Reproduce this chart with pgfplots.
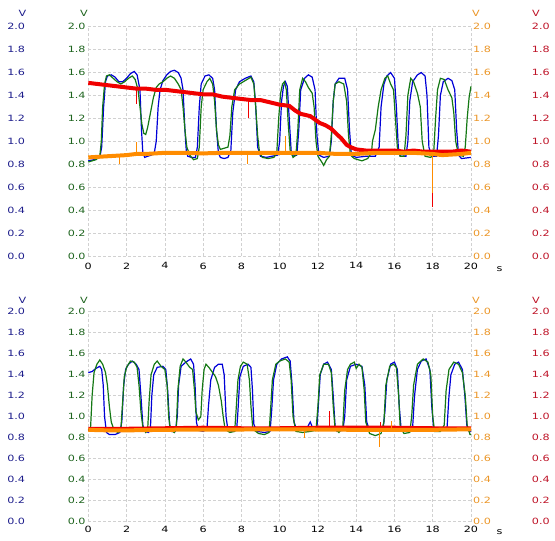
\documentclass[border=0pt]{standalone}
\usepackage{pgfplots}
\pgfplotsset{compat=1.18}
\usepackage{fontspec}
\setmainfont{DejaVu Sans}[FakeStretch=1.3]
\definecolor{cB}{RGB}{0,0,215}
\definecolor{cG}{RGB}{20,120,20}
\definecolor{cR}{RGB}{240,0,0}
\definecolor{cO}{RGB}{255,140,0}
\definecolor{lB}{RGB}{30,30,140}
\definecolor{lG}{RGB}{30,100,30}
\definecolor{lO}{RGB}{235,150,40}
\definecolor{lR}{RGB}{190,20,40}
\newcommand\lbl{\fontsize{8.6}{10}\selectfont}
\pgfplotsset{
  /pgf/number format/assume math mode=true,
  base/.style={
    scale only axis, width=382.7pt,
    xmin=0, xmax=20, ymin=0, ymax=2,
    xtick={0,2,4,6,8,10,12,14,16,18,20},
    ytick={0,0.2,0.4,0.6,0.8,1,1.2,1.4,1.6,1.8,2},
    axis line style={draw=none},
    major tick length=0pt,
    tick style={draw=none},
    ticklabel style={font=\lbl, inner sep=0pt},
    y tick label style={/pgf/number format/fixed,/pgf/number format/fixed zerofill,/pgf/number format/precision=1},
    anchor=south west,
    clip=false,
  },
  gridax/.style={grid=major, grid style={draw=black!18, dash pattern=on 3pt off 2pt, line width=0.6pt}},
  bl/.style={cB, line width=1.2pt},
  gr/.style={cG, line width=1.2pt},
  rd/.style={cR, line width=4pt},
  og/.style={cO, line width=4pt},
  rds/.style={cR, line width=0.8pt},
  ogs/.style={cO, line width=0.8pt},
}
\begin{document}
\begin{tikzpicture}
\path[use as bounding box] (0,0) rectangle (555pt,-541pt);
% ================= TOP PANEL =================
\begin{axis}[base, gridax, at={(88.3pt,-256pt)}, height=229.3pt,
  yticklabel style={text=lG, xshift=-2.5pt},
  xticklabel style={text=black, yshift=-6.5pt}]
\addplot[bl] coordinates {(0,0.83)(0.3,0.84)(0.6,0.86)(0.7,0.95)(0.8,1.3)(0.9,1.52)(1.0,1.57)(1.2,1.58)(1.4,1.56)(1.6,1.52)(1.8,1.52)(2.0,1.55)(2.2,1.59)(2.4,1.61)(2.55,1.58)(2.7,1.45)(2.78,1.1)(2.85,0.9)(2.95,0.86)(3.1,0.87)(3.3,0.88)(3.45,0.9)(3.55,1.0)(3.65,1.3)(3.75,1.45)(3.9,1.53)(4.1,1.58)(4.3,1.61)(4.5,1.62)(4.7,1.6)(4.85,1.55)(4.95,1.45)(5.05,1.1)(5.12,0.92)(5.2,0.87)(5.4,0.86)(5.6,0.86)(5.7,0.95)(5.8,1.3)(5.9,1.5)(6.1,1.57)(6.3,1.58)(6.5,1.55)(6.6,1.45)(6.7,1.1)(6.8,0.9)(6.9,0.86)(7.1,0.85)(7.3,0.86)(7.45,0.92)(7.55,1.25)(7.7,1.45)(7.9,1.52)(8.2,1.55)(8.5,1.57)(8.65,1.52)(8.75,1.3)(8.85,0.95)(9.0,0.87)(9.3,0.86)(9.6,0.87)(9.9,0.88)(10.0,1.0)(10.1,1.35)(10.2,1.48)(10.3,1.52)(10.4,1.48)(10.5,1.2)(10.6,0.92)(10.7,0.87)(10.9,0.88)(11.0,1.1)(11.1,1.45)(11.3,1.55)(11.5,1.58)(11.7,1.56)(11.85,1.45)(11.95,1.05)(12.05,0.88)(12.3,0.86)(12.6,0.87)(12.7,1.0)(12.8,1.35)(12.9,1.5)(13.1,1.55)(13.4,1.55)(13.55,1.45)(13.65,1.1)(13.75,0.88)(14.0,0.86)(14.5,0.87)(15.0,0.87)(15.2,0.95)(15.3,1.3)(15.45,1.5)(15.6,1.57)(15.8,1.6)(16.0,1.55)(16.1,1.3)(16.2,0.95)(16.3,0.87)(16.6,0.87)(16.7,1.0)(16.8,1.35)(16.95,1.52)(17.2,1.58)(17.4,1.6)(17.6,1.57)(17.7,1.4)(17.8,0.95)(17.95,0.87)(18.2,0.87)(18.3,1.05)(18.4,1.4)(18.55,1.52)(18.8,1.55)(19.0,1.53)(19.15,1.45)(19.25,1.1)(19.35,0.88)(19.5,0.85)(20,0.86)};
\addplot[gr] coordinates {(0,0.82)(0.4,0.84)(0.6,0.87)(0.68,1.0)(0.75,1.3)(0.85,1.5)(0.95,1.57)(1.1,1.58)(1.3,1.55)(1.5,1.52)(1.7,1.5)(1.9,1.52)(2.1,1.55)(2.3,1.57)(2.45,1.54)(2.6,1.45)(2.7,1.3)(2.8,1.15)(2.9,1.07)(3.0,1.06)(3.1,1.12)(3.25,1.25)(3.4,1.38)(3.55,1.47)(3.7,1.5)(3.9,1.52)(4.1,1.55)(4.3,1.57)(4.5,1.55)(4.7,1.5)(4.85,1.45)(4.95,1.3)(5.05,1.1)(5.15,0.95)(5.3,0.88)(5.5,0.84)(5.7,0.85)(5.8,0.95)(5.9,1.3)(6.0,1.45)(6.2,1.52)(6.35,1.55)(6.5,1.5)(6.6,1.35)(6.7,1.1)(6.8,0.97)(6.9,0.93)(7.1,0.94)(7.3,0.95)(7.4,1.05)(7.5,1.3)(7.65,1.45)(7.9,1.5)(8.2,1.53)(8.5,1.56)(8.65,1.5)(8.75,1.3)(8.85,1.05)(8.95,0.9)(9.1,0.86)(9.4,0.85)(9.7,0.86)(9.85,0.9)(9.95,1.2)(10.05,1.42)(10.15,1.5)(10.25,1.52)(10.35,1.45)(10.45,1.15)(10.55,0.92)(10.7,0.86)(10.85,0.88)(10.95,1.1)(11.05,1.45)(11.2,1.55)(11.35,1.52)(11.5,1.47)(11.7,1.42)(11.8,1.3)(11.9,1.0)(12.0,0.87)(12.2,0.82)(12.3,0.79)(12.45,0.84)(12.6,0.87)(12.7,1.05)(12.8,1.35)(12.9,1.5)(13.1,1.52)(13.35,1.5)(13.5,1.35)(13.6,1.05)(13.7,0.88)(13.9,0.85)(14.3,0.83)(14.6,0.85)(14.8,0.9)(14.85,1.0)(15.0,1.1)(15.15,1.3)(15.3,1.45)(15.5,1.55)(15.65,1.57)(15.8,1.5)(15.95,1.45)(16.05,1.2)(16.15,0.95)(16.3,0.87)(16.5,0.87)(16.6,1.05)(16.7,1.4)(16.85,1.55)(17.0,1.52)(17.2,1.42)(17.35,1.3)(17.45,1.0)(17.6,0.87)(17.9,0.86)(18.05,0.9)(18.15,1.2)(18.25,1.45)(18.4,1.55)(18.6,1.54)(18.8,1.45)(19.0,1.38)(19.1,1.25)(19.2,1.0)(19.35,0.88)(19.6,0.87)(19.7,0.95)(19.8,1.2)(19.9,1.38)(20,1.48)};
\addplot[rd] coordinates {(0,1.51)(0.5,1.5)(1,1.49)(1.5,1.48)(2,1.47)(2.5,1.46)(3,1.46)(3.5,1.45)(4,1.45)(4.5,1.44)(5,1.43)(5.5,1.42)(6,1.41)(6.5,1.41)(7,1.39)(7.5,1.38)(8,1.37)(8.5,1.36)(9,1.36)(9.5,1.34)(10,1.32)(10.5,1.31)(10.8,1.27)(11.1,1.24)(11.6,1.22)(12.1,1.16)(12.4,1.14)(12.7,1.11)(13.0,1.06)(13.2,1.03)(13.5,0.97)(13.7,0.95)(14.0,0.93)(14.5,0.92)(15,0.92)(15.5,0.92)(16,0.92)(16.5,0.91)(17,0.92)(17.5,0.91)(18,0.91)(18.5,0.91)(19,0.91)(19.5,0.92)(20,0.91)};
\addplot[rds] coordinates {(2.53,1.46)(2.53,1.33)};
\addplot[rds] coordinates {(8.36,1.36)(8.36,1.2)};
\addplot[rds] coordinates {(18.0,0.91)(18.0,0.43)};
\addplot[og] coordinates {(0,0.86)(0.5,0.865)(1,0.87)(1.5,0.875)(2.0,0.88)(2.5,0.89)(3,0.89)(3.5,0.895)(4,0.9)(5,0.9)(6,0.895)(7,0.9)(8,0.9)(9,0.9)(10,0.9)(11,0.9)(12,0.9)(13,0.89)(14,0.89)(15,0.9)(16,0.9)(17,0.9)(18,0.89)(18.5,0.88)(19,0.885)(19.5,0.89)(20,0.9)};
\addplot[ogs] coordinates {(1.65,0.87)(1.65,0.8)};
\addplot[ogs] coordinates {(2.5,0.89)(2.5,0.99)};
\addplot[ogs] coordinates {(8.3,0.9)(8.3,0.8)};
\addplot[ogs] coordinates {(10.28,0.9)(10.28,1.05)};
\addplot[ogs] coordinates {(17.97,0.9)(17.97,0.55)};
\node[text=lG, font=\lbl, anchor=base] at (rel axis cs:0,1) [xshift=-4.3pt, yshift=10pt] {V};
\node[text=black, font=\lbl, anchor=base] at (rel axis cs:1,0) [xshift=28.5pt, yshift=-15pt] {s};
\end{axis}
\begin{axis}[base, at={(88.3pt,-256pt)}, height=229.3pt, hide x axis,
  yticklabel style={text=lB, xshift=-63pt}]
\node[text=lB, font=\lbl, anchor=base] at (rel axis cs:0,1) [xshift=-65.8pt, yshift=10pt] {V};
\end{axis}
\begin{axis}[base, at={(88.3pt,-256pt)}, height=229.3pt, hide x axis, yticklabel pos=right,
  yticklabel style={text=lO, xshift=2pt}]
\node[text=lO, font=\lbl, anchor=base] at (rel axis cs:1,1) [xshift=5pt, yshift=10pt] {V};
\end{axis}
\begin{axis}[base, at={(88.3pt,-256pt)}, height=229.3pt, hide x axis, yticklabel pos=right,
  yticklabel style={text=lR, xshift=60.7pt}]
\node[text=lR, font=\lbl, anchor=base] at (rel axis cs:1,1) [xshift=65pt, yshift=10pt] {V};
\end{axis}
% ================= BOTTOM PANEL =================
\begin{axis}[base, gridax, at={(88.3pt,-521.7pt)}, height=210pt,
  yticklabel style={text=lG, xshift=-2.5pt},
  xticklabel style={text=black, yshift=-4.5pt}]
\addplot[bl] coordinates {(0,1.42)(0.2,1.43)(0.4,1.46)(0.6,1.48)(0.7,1.45)(0.78,1.3)(0.85,1.0)(0.95,0.85)(1.1,0.83)(1.4,0.83)(1.65,0.85)(1.75,0.95)(1.85,1.3)(1.95,1.45)(2.1,1.5)(2.3,1.53)(2.5,1.5)(2.65,1.45)(2.75,1.2)(2.85,0.92)(2.95,0.86)(3.15,0.85)(3.25,0.9)(3.32,1.2)(3.42,1.4)(3.6,1.47)(3.9,1.48)(4.05,1.45)(4.15,1.25)(4.25,0.92)(4.35,0.86)(4.55,0.86)(4.65,1.0)(4.72,1.3)(4.85,1.48)(5.1,1.52)(5.35,1.55)(5.5,1.5)(5.58,1.3)(5.65,0.95)(5.75,0.87)(6.0,0.86)(6.2,0.88)(6.28,1.1)(6.4,1.35)(6.6,1.47)(6.8,1.5)(7.0,1.5)(7.1,1.4)(7.2,1.0)(7.3,0.87)(7.5,0.86)(7.75,0.87)(7.82,1.05)(7.92,1.38)(8.1,1.48)(8.35,1.5)(8.5,1.47)(8.58,1.25)(8.65,0.93)(8.8,0.86)(9.2,0.85)(9.5,0.86)(9.58,1.05)(9.68,1.35)(9.85,1.5)(10.1,1.55)(10.4,1.57)(10.55,1.53)(10.65,1.3)(10.75,0.95)(10.9,0.87)(11.2,0.87)(11.45,0.9)(11.6,0.95)(11.75,0.88)(11.95,0.9)(12.02,1.1)(12.12,1.4)(12.3,1.5)(12.5,1.52)(12.7,1.45)(12.8,1.2)(12.9,0.9)(13.0,0.86)(13.3,0.87)(13.4,1.0)(13.5,1.35)(13.7,1.48)(14.0,1.5)(14.3,1.48)(14.45,1.3)(14.55,0.95)(14.7,0.87)(15.0,0.86)(15.4,0.87)(15.5,1.05)(15.6,1.35)(15.8,1.5)(16.0,1.52)(16.15,1.45)(16.25,1.1)(16.35,0.88)(16.7,0.87)(16.95,0.9)(17.05,1.2)(17.2,1.45)(17.4,1.53)(17.65,1.55)(17.85,1.45)(17.95,1.1)(18.05,0.88)(18.4,0.87)(18.75,0.9)(18.85,1.2)(18.95,1.4)(19.15,1.5)(19.35,1.52)(19.55,1.45)(19.68,1.2)(19.78,0.92)(19.9,0.86)(20,0.86)};
\addplot[gr] coordinates {(0,0.87)(0.12,0.9)(0.2,1.2)(0.3,1.42)(0.45,1.5)(0.6,1.54)(0.75,1.5)(0.9,1.42)(1.0,1.3)(1.1,1.1)(1.2,0.95)(1.35,0.87)(1.55,0.85)(1.7,0.87)(1.78,1.1)(1.88,1.38)(2.0,1.47)(2.2,1.53)(2.4,1.52)(2.55,1.47)(2.65,1.3)(2.75,1.05)(2.85,0.9)(3.0,0.85)(3.1,0.87)(3.18,1.15)(3.28,1.4)(3.45,1.5)(3.6,1.53)(3.8,1.48)(4.0,1.45)(4.12,1.3)(4.2,1.0)(4.3,0.87)(4.5,0.85)(4.6,0.9)(4.68,1.25)(4.8,1.48)(4.95,1.55)(5.1,1.52)(5.3,1.47)(5.45,1.45)(5.55,1.25)(5.62,1.05)(5.75,0.97)(5.88,1.0)(5.95,1.25)(6.05,1.45)(6.15,1.5)(6.3,1.47)(6.5,1.42)(6.65,1.38)(6.8,1.3)(6.95,1.15)(7.05,1.0)(7.15,0.88)(7.4,0.85)(7.65,0.86)(7.72,1.05)(7.82,1.35)(7.95,1.48)(8.1,1.52)(8.3,1.5)(8.42,1.35)(8.5,1.1)(8.6,0.88)(8.9,0.84)(9.2,0.83)(9.45,0.85)(9.52,1.05)(9.62,1.35)(9.8,1.5)(10.0,1.53)(10.3,1.55)(10.5,1.52)(10.6,1.35)(10.7,1.0)(10.85,0.86)(11.2,0.85)(11.6,0.86)(11.9,0.87)(12.0,1.1)(12.1,1.4)(12.3,1.5)(12.55,1.5)(12.7,1.42)(12.8,1.1)(12.9,0.88)(13.1,0.85)(13.3,0.9)(13.4,1.25)(13.55,1.45)(13.7,1.5)(13.9,1.52)(14.0,1.46)(14.15,1.5)(14.3,1.47)(14.42,1.25)(14.5,0.95)(14.7,0.84)(15.0,0.82)(15.3,0.84)(15.45,0.95)(15.55,1.3)(15.75,1.48)(15.95,1.5)(16.1,1.47)(16.22,1.2)(16.3,0.9)(16.5,0.84)(16.8,0.85)(16.9,1.0)(17.0,1.3)(17.2,1.5)(17.5,1.55)(17.75,1.52)(17.9,1.4)(18.0,1.0)(18.1,0.86)(18.4,0.86)(18.6,0.92)(18.7,1.25)(18.85,1.45)(19.1,1.52)(19.35,1.5)(19.55,1.42)(19.7,1.2)(19.8,0.92)(19.95,0.83)(20,0.83)};
\addplot[rd] coordinates {(0,0.885)(2,0.885)(4,0.89)(6,0.895)(8,0.89)(10,0.89)(12,0.895)(14,0.895)(16,0.895)(18,0.89)(20,0.89)};
\addplot[rds] coordinates {(12.6,0.89)(12.6,1.05)};
\addplot[rds] coordinates {(15.25,0.89)(15.25,0.95)};
\addplot[og] coordinates {(0,0.875)(1,0.87)(2,0.87)(4,0.875)(6,0.878)(8,0.878)(10,0.88)(12,0.878)(14,0.875)(16,0.875)(18,0.875)(20,0.88)};
\addplot[ogs] coordinates {(15.22,0.87)(15.22,0.71)};
\addplot[ogs] coordinates {(15.82,0.87)(15.82,0.96)};
\addplot[ogs] coordinates {(11.3,0.87)(11.3,0.8)};
\node[text=lG, font=\lbl, anchor=base] at (rel axis cs:0,1) [xshift=-4.3pt, yshift=8.5pt] {V};
\node[text=black, font=\lbl, anchor=base] at (rel axis cs:1,0) [xshift=28.5pt, yshift=-13pt] {s};
\end{axis}
\begin{axis}[base, at={(88.3pt,-521.7pt)}, height=210pt, hide x axis,
  yticklabel style={text=lB, xshift=-63pt}]
\node[text=lB, font=\lbl, anchor=base] at (rel axis cs:0,1) [xshift=-65.8pt, yshift=8.5pt] {V};
\end{axis}
\begin{axis}[base, at={(88.3pt,-521.7pt)}, height=210pt, hide x axis, yticklabel pos=right,
  yticklabel style={text=lO, xshift=2pt}]
\node[text=lO, font=\lbl, anchor=base] at (rel axis cs:1,1) [xshift=5pt, yshift=8.5pt] {V};
\end{axis}
\begin{axis}[base, at={(88.3pt,-521.7pt)}, height=210pt, hide x axis, yticklabel pos=right,
  yticklabel style={text=lR, xshift=60.7pt}]
\node[text=lR, font=\lbl, anchor=base] at (rel axis cs:1,1) [xshift=65pt, yshift=8.5pt] {V};
\end{axis}
\end{tikzpicture}
\end{document}
